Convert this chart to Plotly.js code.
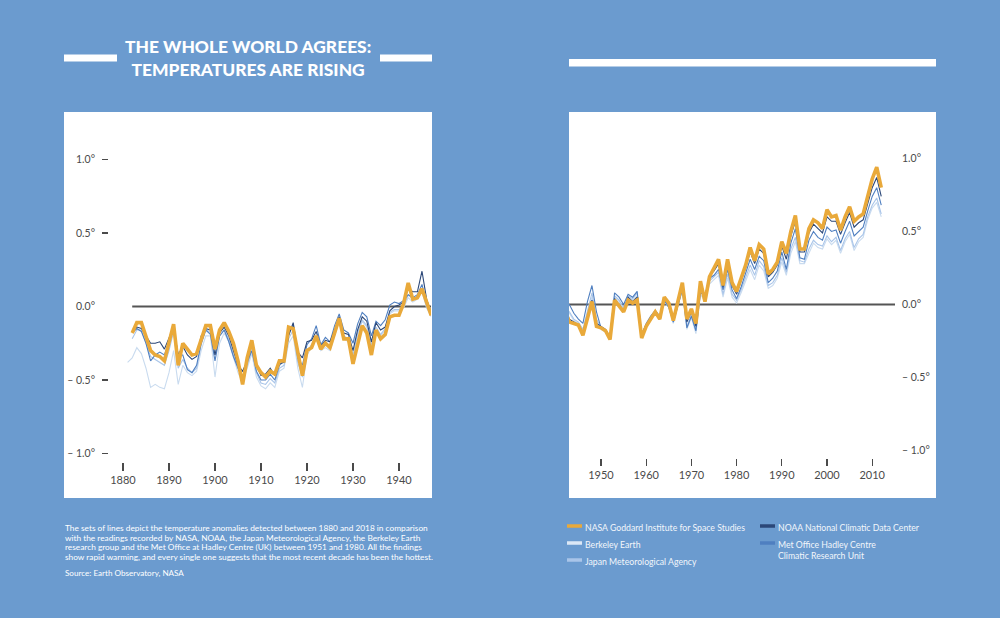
<!DOCTYPE html>
<html>
<head>
<meta charset="utf-8">
<script src="https://cdn.plot.ly/plotly-3.0.1.min.js"></script>
<style>
html,body{margin:0;padding:0;background:#6b9bcf;}
#chart{width:1000px;height:618px;}
</style>
</head>
<body>
<div id="chart"></div>
<script>
// ---------- DATA ----------
const seriesNames = ["NASA Goddard Institute for Space Studies", "Berkeley Earth", "Japan Meteorological Agency",
  "NOAA National Climatic Data Center", "Met Office Hadley Centre<br>Climatic Research Unit"];
const seriesColors = ["#e9a93a", "#dce8f6", "#a9c5e9", "#2b4778", "#4f7fc0"];

const yearTicksL = [1880, 1890, 1900, 1910, 1920, 1930, 1940];
const yearTicksR = [1950, 1960, 1970, 1980, 1990, 2000, 2010];
const tempTicks = [-1, -0.5, 0, 0.5, 1];
const tempDashTicks = [-1, -0.5, 0.5, 1];
const tempTickText = ["\u2013 1.0\u00b0", "\u2013 0.5\u00b0", "0.0\u00b0", "0.5\u00b0", "1.0\u00b0"];

const bodyLines = [
  "The sets of lines depict the temperature anomalies detected between 1880 and 2018 in comparison",
  "with the readings recorded by NASA, NOAA, the Japan Meteorological Agency, the Berkeley Earth",
  "research group and the Met Office at Hadley Centre (UK) between 1951 and 1980. All the findings",
  "show rapid warming, and every single one suggests that the most recent decade has been the hottest."
];
const sourceText = "Source: Earth Observatory, NASA";
const titleText = "THE WHOLE WORLD AGREES:<br>TEMPERATURES ARE RISING";

// Left panel (1881-1947)
const yearsL = [1881,1882,1883,1884,1885,1886,1887,1888,1889,1890,1891,1892,1893,1894,1895,1896,1897,1898,1899,1900,
  1901,1902,1903,1904,1905,1906,1907,1908,1909,1910,1911,1912,1913,1914,1915,1916,1917,1918,1919,1920,
  1921,1922,1923,1924,1925,1926,1927,1928,1929,1930,1931,1932,1933,1934,1935,1936,1937,1938,1939,1940,
  1941,1942,1943,1944,1945,1946,1947];
const nasaL = [null,-0.18,-0.11,-0.11,-0.20,-0.30,-0.33,-0.34,-0.37,-0.25,-0.12,
  -0.40,-0.25,-0.29,-0.33,-0.32,-0.22,-0.13,-0.13,-0.29,-0.16,
  -0.11,-0.17,-0.25,-0.37,-0.53,-0.35,-0.23,-0.40,-0.45,-0.48,
  -0.44,-0.46,-0.37,-0.37,-0.14,-0.15,-0.30,-0.47,-0.30,-0.28,
  -0.20,-0.29,-0.25,-0.28,-0.18,-0.08,-0.22,-0.22,-0.39,-0.25,
  -0.13,-0.18,-0.33,-0.16,-0.22,-0.19,-0.07,-0.06,-0.06,0.02,
  0.16,0.05,0.06,0.12,0.02,-0.06];
const noaaL = [null,-0.17,-0.14,-0.15,-0.20,-0.25,-0.25,-0.24,-0.29,-0.22,-0.14,
  -0.33,-0.27,-0.33,-0.36,-0.34,-0.20,-0.15,-0.16,-0.33,-0.18,
  -0.14,-0.20,-0.30,-0.40,-0.44,-0.37,-0.27,-0.40,-0.47,-0.46,
  -0.42,-0.47,-0.39,-0.38,-0.20,-0.11,-0.31,-0.35,-0.24,-0.23,
  -0.17,-0.27,-0.23,-0.24,-0.16,-0.07,-0.18,-0.19,-0.30,-0.16,
  -0.07,-0.10,-0.24,-0.11,-0.16,-0.14,-0.03,0.00,0.01,0.03,
  0.12,0.10,0.10,0.24,0.05,-0.04];
const metL = [null,-0.18,-0.15,-0.17,-0.25,-0.37,-0.33,-0.31,-0.33,-0.24,-0.15,
  -0.33,-0.33,-0.43,-0.45,-0.40,-0.25,-0.16,-0.19,-0.37,-0.20,
  -0.16,-0.24,-0.34,-0.42,-0.48,-0.38,-0.30,-0.44,-0.50,-0.50,
  -0.46,-0.50,-0.40,-0.37,-0.19,-0.12,-0.35,-0.40,-0.26,-0.22,
  -0.13,-0.26,-0.21,-0.24,-0.13,-0.05,-0.16,-0.18,-0.25,-0.12,
  -0.04,-0.07,-0.20,-0.10,-0.13,-0.09,0.01,0.03,0.02,0.04,
  0.08,0.06,0.08,0.15,0.02,-0.05];
const japanL = [null,-0.22,-0.16,-0.16,-0.25,-0.34,-0.36,-0.38,-0.40,-0.30,-0.17,
  -0.42,-0.36,-0.42,-0.45,-0.42,-0.26,-0.15,-0.18,-0.33,-0.20,
  -0.16,-0.22,-0.33,-0.42,-0.50,-0.40,-0.30,-0.45,-0.52,-0.53,
  -0.49,-0.52,-0.42,-0.40,-0.22,-0.16,-0.38,-0.48,-0.30,-0.26,
  -0.20,-0.29,-0.26,-0.28,-0.17,-0.09,-0.20,-0.22,-0.33,-0.18,
  -0.09,-0.13,-0.26,-0.14,-0.19,-0.15,-0.04,-0.02,-0.02,0.00,
  0.08,0.05,0.07,0.12,0.00,-0.06];
const berkeleyL = [-0.38,-0.35,-0.28,-0.32,-0.42,-0.55,-0.53,-0.55,-0.56,-0.45,-0.30,
  -0.53,-0.40,-0.45,-0.47,-0.44,-0.30,-0.20,-0.20,-0.48,-0.25,
  -0.18,-0.24,-0.35,-0.45,-0.52,-0.42,-0.32,-0.48,-0.54,-0.56,
  -0.52,-0.55,-0.44,-0.42,-0.25,-0.20,-0.42,-0.55,-0.33,-0.28,
  -0.22,-0.30,-0.28,-0.30,-0.20,-0.10,-0.22,-0.24,-0.33,-0.20,
  -0.10,-0.14,-0.27,-0.16,-0.20,-0.16,-0.05,-0.03,-0.03,-0.01,
  0.06,0.03,0.05,0.10,-0.01,-0.07];

// Right panel (1942-2012)
const yearsR = [1942,1943,1944,1945,1946,1947,1948,1949,1950,1951,1952,1953,1954,1955,1956,1957,1958,1959,1960,1961,
  1962,1963,1964,1965,1966,1967,1968,1969,1970,1971,1972,1973,1974,1975,1976,1977,1978,1979,1980,1981,
  1982,1983,1984,1985,1986,1987,1988,1989,1990,1991,1992,1993,1994,1995,1996,1997,1998,1999,2000,2001,
  2002,2003,2004,2005,2006,2007,2008,2009,2010,2011,2012];
const nasaR = [-0.04,-0.12,-0.13,-0.14,-0.21,-0.10,0.02,-0.15,-0.16,-0.18,
  -0.24,0.03,-0.01,-0.05,0.03,0.01,0.03,-0.23,-0.15,-0.10,
  -0.05,-0.10,0.05,0.01,-0.11,0.02,0.15,-0.10,-0.03,-0.13,
  0.16,0.02,0.19,0.25,0.31,0.13,0.31,0.15,0.09,0.18,
  0.27,0.39,0.30,0.41,0.38,0.21,0.24,0.29,0.43,0.35,
  0.50,0.61,0.38,0.38,0.52,0.58,0.56,0.52,0.65,0.60,
  0.61,0.51,0.60,0.67,0.57,0.60,0.62,0.74,0.86,0.94,0.80];
const noaaR = [-0.03,-0.10,-0.12,-0.14,-0.19,-0.08,0.03,-0.13,-0.15,-0.17,
  -0.22,0.04,0.00,-0.04,0.05,0.02,0.05,-0.20,-0.14,-0.09,
  -0.05,-0.10,0.04,0.00,-0.10,0.01,0.13,-0.12,-0.05,-0.15,
  0.12,0.05,0.20,0.23,0.28,0.12,0.28,0.13,0.07,0.16,
  0.25,0.36,0.28,0.38,0.35,0.19,0.22,0.27,0.40,0.31,
  0.47,0.57,0.36,0.36,0.49,0.55,0.52,0.49,0.60,0.57,
  0.57,0.48,0.56,0.63,0.53,0.56,0.58,0.70,0.80,0.87,0.74];
const metR = [0.00,0.00,-0.06,-0.10,-0.13,0.02,0.13,-0.05,-0.16,-0.18,
  -0.22,0.08,0.05,0.00,0.07,0.05,0.09,-0.21,-0.13,-0.08,
  -0.04,-0.08,0.03,-0.02,-0.12,0.00,0.10,-0.16,-0.08,-0.18,
  0.08,0.06,0.18,0.20,0.24,0.10,0.24,0.10,0.04,0.12,
  0.22,0.31,0.24,0.33,0.30,0.15,0.18,0.23,0.36,0.24,
  0.42,0.52,0.32,0.31,0.44,0.50,0.46,0.44,0.53,0.50,
  0.51,0.42,0.50,0.57,0.47,0.50,0.53,0.64,0.74,0.80,0.68];
const japanR = [-0.02,-0.05,-0.10,-0.12,-0.17,-0.04,0.08,-0.10,-0.16,-0.18,
  -0.22,0.06,0.03,-0.02,0.06,0.04,0.08,-0.21,-0.14,-0.09,
  -0.05,-0.09,0.03,-0.01,-0.12,0.00,0.11,-0.15,-0.07,-0.18,
  0.10,0.04,0.16,0.19,0.22,0.07,0.21,0.07,0.03,0.10,
  0.19,0.27,0.20,0.30,0.26,0.13,0.15,0.20,0.32,0.22,
  0.38,0.46,0.30,0.29,0.38,0.44,0.41,0.40,0.47,0.43,
  0.46,0.37,0.45,0.50,0.39,0.45,0.48,0.60,0.68,0.73,0.62];
const berkeleyR = [-0.03,-0.06,-0.11,-0.13,-0.18,-0.06,0.05,-0.12,-0.17,-0.19,
  -0.23,0.05,0.02,-0.03,0.05,0.03,0.06,-0.22,-0.15,-0.10,
  -0.06,-0.10,0.02,-0.02,-0.13,-0.01,0.10,-0.17,-0.09,-0.20,
  0.07,0.02,0.14,0.17,0.20,0.05,0.18,0.05,0.01,0.08,
  0.16,0.24,0.17,0.27,0.23,0.11,0.13,0.18,0.29,0.20,
  0.35,0.43,0.28,0.28,0.35,0.42,0.39,0.38,0.45,0.41,
  0.44,0.35,0.43,0.48,0.37,0.43,0.46,0.58,0.66,0.70,0.60];

// ---------- LAYOUT HELPERS (positions only) ----------
const W = 1000, H = 618;
const px = v => v / W;
const py = v => 1 - v / H;
const BG = "#6b9bcf";
const FONT = "Lato, 'Open Sans', sans-serif";
const TICKC = "#4a4a4a";
const berkeleyLine = "#c9dbef"; // faint on white panel

const leftSets = [
  {y: berkeleyL, c: berkeleyLine, w: 1.1},
  {y: japanL, c: seriesColors[2], w: 1.1},
  {y: metL, c: seriesColors[4], w: 1.1},
  {y: noaaL, c: seriesColors[3], w: 1.1},
  {y: nasaL, c: seriesColors[0], w: 3.6}
];
const rightSets = [
  {y: berkeleyR, c: berkeleyLine, w: 1.1},
  {y: japanR, c: seriesColors[2], w: 1.1},
  {y: metR, c: seriesColors[4], w: 1.1},
  {y: noaaR, c: seriesColors[3], w: 1.1},
  {y: nasaR, c: seriesColors[0], w: 3.6}
];
const traces = [];
// empty trace so the tick-dash axis (y3) is drawn
traces.push({x: [], y: [], type: "scatter", mode: "lines", xaxis: "x", yaxis: "y3", showlegend: false, hoverinfo: "skip"});
leftSets.forEach(s => traces.push({
  x: yearsL, y: s.y, type: "scatter", mode: "lines", xaxis: "x", yaxis: "y",
  line: {color: s.c, width: s.w}, showlegend: false, hoverinfo: "skip", connectgaps: false
}));
rightSets.forEach(s => traces.push({
  x: yearsR, y: s.y, type: "scatter", mode: "lines", xaxis: "x2", yaxis: "y2",
  line: {color: s.c, width: s.w}, showlegend: false, hoverinfo: "skip"
}));

const domY = [py(470), py(125)];
const rangeL = [1880 + (120 - 123) / 4.6, 1880 + (431 - 123) / 4.6];
const rangeR = [1950 + (569 - 601) / 4.52, 1950 + (895 - 601) / 4.52];
const yRangeL = [(306.5 - 470) / 147, (306.5 - 125) / 147];
const yRangeR = [(304.5 - 470) / 146, (304.5 - 125) / 146];

const shapes = [
  {type: "rect", xref: "paper", yref: "paper", x0: px(64), x1: px(432), y0: py(498), y1: py(112), fillcolor: "#ffffff", line: {width: 0}, layer: "below"},
  {type: "rect", xref: "paper", yref: "paper", x0: px(569), x1: px(936), y0: py(498), y1: py(112), fillcolor: "#ffffff", line: {width: 0}, layer: "below"},
  {type: "rect", xref: "paper", yref: "paper", x0: px(64), x1: px(117), y0: py(61.5), y1: py(54.5), fillcolor: "#ffffff", line: {width: 0}},
  {type: "rect", xref: "paper", yref: "paper", x0: px(380), x1: px(432), y0: py(61.5), y1: py(54.5), fillcolor: "#ffffff", line: {width: 0}},
  {type: "rect", xref: "paper", yref: "paper", x0: px(569), x1: px(936), y0: py(66.5), y1: py(59), fillcolor: "#ffffff", line: {width: 0}},
  {type: "line", xref: "x", yref: "y", x0: yearsL[1], x1: rangeL[1], y0: 0, y1: 0, line: {color: "#555555", width: 1.8}, layer: "below"},
  {type: "line", xref: "x2 domain", yref: "y2", x0: 0, x1: 1, y0: 0, y1: 0, line: {color: "#555555", width: 1.8}, layer: "below"}
];

const legendPos = [
  {sx: 567, y: 526}, {sx: 567, y: 543}, {sx: 567, y: 560},
  {sx: 760, y: 526}, {sx: 760, y: 543}
];
const annotations = [
  {xref: "paper", yref: "paper", x: px(248), y: py(58), xanchor: "center", yanchor: "middle", showarrow: false, align: "center",
   text: titleText, font: {family: FONT, size: 17.4, color: "#ffffff", weight: 900}}
];
bodyLines.forEach((t, i) => annotations.push({
  xref: "paper", yref: "paper", x: px(63), y: py(528 + i * 9.7), xanchor: "left", yanchor: "middle", showarrow: false, align: "left",
  text: t, font: {family: FONT, size: 8.3, color: "#ffffff"}
}));
annotations.push({xref: "paper", yref: "paper", x: px(63), y: py(573), xanchor: "left", yanchor: "middle", showarrow: false, align: "left",
  text: sourceText, font: {family: FONT, size: 8.1, color: "#ffffff"}});
seriesNames.forEach((n, i) => {
  const p = legendPos[i];
  shapes.push({type: "line", xref: "paper", yref: "paper", x0: px(p.sx), x1: px(p.sx + 15), y0: py(p.y), y1: py(p.y),
    line: {color: seriesColors[i], width: 3.5}});
  annotations.push({xref: "paper", yref: "paper", x: px(p.sx + 16), y: py(p.y - 6), xanchor: "left", yanchor: "top",
    showarrow: false, align: "left", text: n, font: {family: FONT, size: 8.7, color: "#f2f6fb"}});
});

const layout = {
  width: W, height: H, margin: {l: 0, r: 0, t: 0, b: 0},
  paper_bgcolor: BG, plot_bgcolor: "rgba(0,0,0,0)", showlegend: false,
  font: {family: FONT, color: TICKC},
  xaxis: {domain: [px(120), px(431)], range: rangeL, anchor: "free", position: py(462),
    tickvals: yearTicksL, ticks: "outside", ticklen: 8, tickwidth: 1.3, tickcolor: TICKC,
    showgrid: false, zeroline: false, showline: false, tickfont: {size: 11, color: TICKC}},
  yaxis: {domain: domY, range: yRangeL, anchor: "free", position: px(108),
    tickvals: tempTicks, ticktext: tempTickText, ticks: "", ticklabelstandoff: 13,
    showgrid: false, zeroline: false, showline: false, tickfont: {size: 10.5, color: TICKC}},
  yaxis3: {domain: domY, range: yRangeL, anchor: "free", position: px(108), overlaying: "y",
    tickvals: tempDashTicks, showticklabels: false, ticks: "outside", ticklen: 6, tickwidth: 1.4, tickcolor: TICKC,
    showgrid: false, zeroline: false, showline: false},
  xaxis2: {domain: [px(569), px(895)], range: rangeR, anchor: "free", position: py(458),
    tickvals: yearTicksR, ticks: "outside", ticklen: 7, tickwidth: 1.3, tickcolor: TICKC,
    showgrid: false, zeroline: false, showline: false, tickfont: {size: 11, color: TICKC}},
  yaxis2: {domain: domY, range: yRangeR, anchor: "x2", side: "right",
    tickvals: tempTicks, ticktext: tempTickText, ticks: "", ticklabelstandoff: 6,
    showgrid: false, zeroline: false, showline: false, tickfont: {size: 10.5, color: TICKC}},
  shapes: shapes,
  annotations: annotations
};

Plotly.newPlot("chart", traces, layout, {staticPlot: true, displayModeBar: false});
</script>
</body>
</html>
